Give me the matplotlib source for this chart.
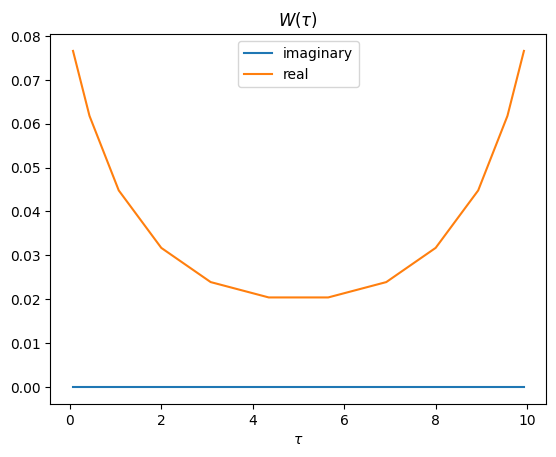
import numpy as np
import matplotlib
matplotlib.use('Agg')
import matplotlib.pyplot as plt

tau = np.array([0.07, 0.43, 1.07, 2.0, 3.08, 4.35, 5.65, 6.92, 8.0, 8.93, 9.57, 9.93])
w_real = np.array([0.0766, 0.0618, 0.0448, 0.0317, 0.0239, 0.0204,
                   0.0204, 0.0239, 0.0317, 0.0448, 0.0618, 0.0766])
w_imag = np.zeros_like(w_real)

fig, ax = plt.subplots(figsize=(6.4, 4.8), dpi=100)
ax.plot(tau, w_imag, label='imaginary')
ax.plot(tau, w_real, label='real')
ax.set_title(r'$W(\tau)$')
ax.set_xlabel(r'$\tau$')
ax.legend(loc='upper center')

fig.savefig('out.png', dpi=100, bbox_inches='tight')
